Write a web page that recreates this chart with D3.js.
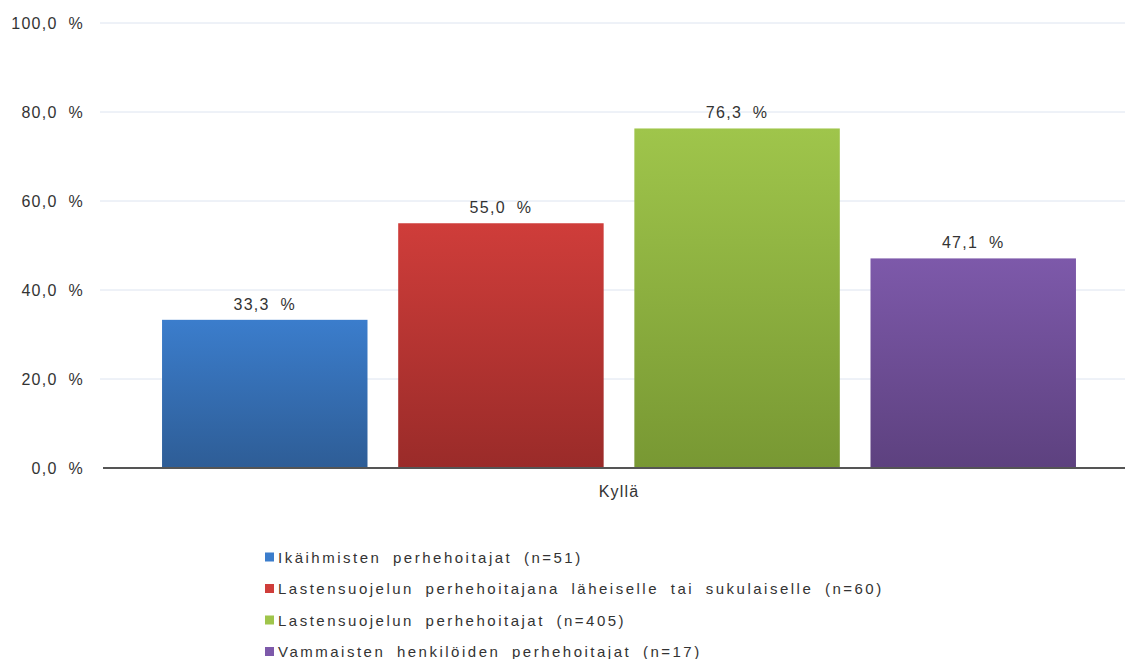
<!DOCTYPE html>
<html>
<head>
<meta charset="utf-8">
<script src="https://cdn.jsdelivr.net/npm/d3@7"></script>
<style>
  body { margin: 0; background: #fff; }
  text { font-family: "Liberation Sans", Arial, sans-serif; fill: #333; }
</style>
</head>
<body>
<div class="vis-bars"></div>
<script>
const categories = ["Kyllä"];
const seriesNames = [
  "Ikäihmisten perhehoitajat (n=51)",
  "Lastensuojelun perhehoitajana läheiselle tai sukulaiselle (n=60)",
  "Lastensuojelun perhehoitajat (n=405)",
  "Vammaisten henkilöiden perhehoitajat (n=17)"
];
const values = [33.3, 55.0, 76.3, 47.1];
const yTicks = [0, 20, 40, 60, 80, 100];
const colorsTop = ["#3b7dcc", "#cf3d3a", "#9fc54b", "#7d59aa"];
const colorsBottom = ["#2e5d96", "#9a2b29", "#789833", "#5d417f"];

const W = 1125, H = 659;
const fmt = v => d3.format(".1f")(v).replace(".", ",") + " %";

const svg = d3.select(".vis-bars").append("svg")
  .attr("width", W).attr("height", H);

const y = d3.scaleLinear().domain([0, 100]).range([468, 23]);

const x0 = d3.scaleBand().domain(categories).range([103, 1135])
  .paddingInner(0).paddingOuter(0.0646);
const x1 = d3.scaleBand().domain(seriesNames).range([0, x0.bandwidth()])
  .paddingInner(0.13).paddingOuter(0);

// gradients
const defs = svg.append("defs");
seriesNames.forEach((s, i) => {
  const g = defs.append("linearGradient").attr("id", "g" + i)
    .attr("x1", 0).attr("y1", 0).attr("x2", 0).attr("y2", 1);
  g.append("stop").attr("offset", "0%").attr("stop-color", colorsTop[i]);
  g.append("stop").attr("offset", "100%").attr("stop-color", colorsBottom[i]);
});

// gridlines
svg.append("g").selectAll("line")
  .data(yTicks.filter(d => d > 0))
  .enter().append("line")
  .attr("x1", 100).attr("x2", W)
  .attr("y1", d => y(d)).attr("y2", d => y(d))
  .attr("stroke", "#dde4f0").attr("stroke-width", 1);

// y labels
svg.append("g").selectAll("text")
  .data(yTicks)
  .enter().append("text")
  .attr("x", 84).attr("y", d => y(d) + 6)
  .attr("text-anchor", "end")
  .style("font-size", "16px")
  .style("letter-spacing", "1.3px")
  .style("word-spacing", "5px")
  .text(d => fmt(d));

// bars
const grp = svg.append("g").selectAll("g")
  .data(categories).enter().append("g")
  .attr("transform", d => "translate(" + x0(d) + ",0)");

grp.selectAll("rect")
  .data(seriesNames.map((s, i) => ({ s: s, v: values[i], i: i })))
  .enter().append("rect")
  .attr("x", d => x1(d.s))
  .attr("width", x1.bandwidth())
  .attr("y", d => y(d.v))
  .attr("height", d => y(0) - y(d.v))
  .attr("fill", d => "url(#g" + d.i + ")");

grp.selectAll("text.val")
  .data(seriesNames.map((s, i) => ({ s: s, v: values[i] })))
  .enter().append("text")
  .attr("class", "val")
  .attr("x", d => x1(d.s) + x1.bandwidth() / 2)
  .attr("y", d => y(d.v) - 10)
  .attr("text-anchor", "middle")
  .style("font-size", "16px")
  .style("letter-spacing", "1.3px")
  .style("word-spacing", "5px")
  .text(d => fmt(d.v));

// x axis line
svg.append("line")
  .attr("x1", 103).attr("x2", W)
  .attr("y1", y(0)).attr("y2", y(0))
  .attr("stroke", "#555").attr("stroke-width", 2);

grp.append("text")
  .attr("x", x0.bandwidth() / 2)
  .attr("y", 497)
  .attr("text-anchor", "middle")
  .style("font-size", "16px")
  .style("letter-spacing", "1.2px")
  .text(d => d);

// legend
const legendG = svg.append("g").selectAll("g")
  .data(seriesNames).enter().append("g")
  .attr("transform", (d, i) => "translate(265," + (557 + i * 31.5) + ")");

legendG.append("rect")
  .attr("x", 0).attr("y", -4.5)
  .attr("width", 9).attr("height", 9)
  .attr("fill", (d, i) => colorsTop[i]);

legendG.append("text")
  .attr("x", 13).attr("y", 5.5)
  .style("font-size", "15px")
  .style("letter-spacing", "2.5px")
  .style("word-spacing", "5px")
  .text(d => d);
</script>
</body>
</html>
